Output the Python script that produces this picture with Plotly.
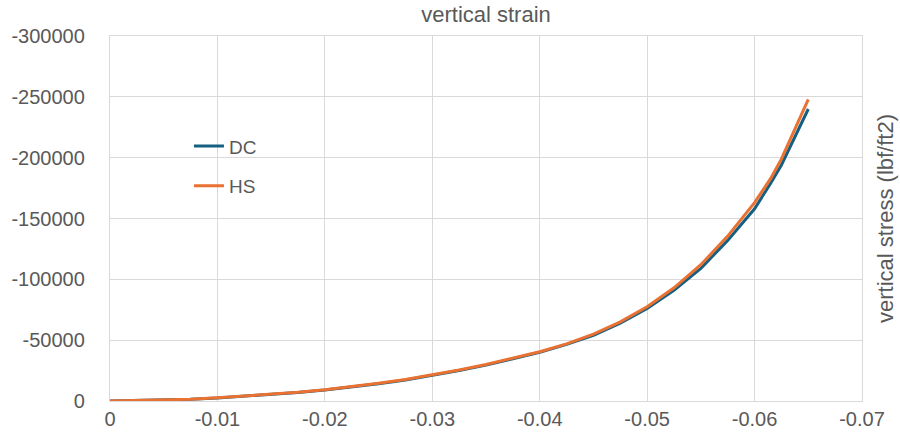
import plotly.graph_objects as go

strain = [0.0, -0.0025, -0.005, -0.0075, -0.01, -0.0125, -0.015, -0.0175, -0.02,
          -0.0225, -0.025, -0.0275, -0.03, -0.0325, -0.035, -0.0375, -0.04,
          -0.0425, -0.045, -0.0475, -0.05, -0.0525, -0.055, -0.0575, -0.06,
          -0.0615, -0.0625, -0.065]
dc_stress = [0, -300, -700, -1500, -2500, -3800, -5300, -7000, -9000,
             -11500, -14200, -17300, -21000, -25000, -29500, -34500, -40000,
             -46500, -54000, -64000, -76000, -91000, -109000, -132000, -158000,
             -179000, -194000, -240000]
hs_stress = [0, -300, -700, -1500, -2600, -3900, -5400, -7100, -9200,
             -11700, -14500, -17600, -21400, -25500, -30000, -35000, -40500,
             -47000, -55000, -65000, -77500, -93000, -112000, -135500, -163000,
             -183000, -199000, -248000]

x_ticks = [0, -0.01, -0.02, -0.03, -0.04, -0.05, -0.06, -0.07]
x_labels = ["0", "-0.01", "-0.02", "-0.03", "-0.04", "-0.05", "-0.06", "-0.07"]
y_ticks = [0, -50000, -100000, -150000, -200000, -250000, -300000]
y_labels = ["0", "-50000", "-100000", "-150000", "-200000", "-250000", "-300000"]

FONT = "Liberation Sans"
TXT = "#595959"
GRID = "#d9d9d9"

fig = go.Figure()
fig.add_trace(go.Scatter(x=strain, y=dc_stress, name="DC", mode="lines",
                         line=dict(color="#156082", width=3), legendgroup="a"))
fig.add_trace(go.Scatter(x=strain, y=hs_stress, name="HS", mode="lines",
                         line=dict(color="#E97132", width=3), legendgroup="b"))
# invisible trace on secondary axis to carry right-side title
fig.add_trace(go.Scatter(x=[None], y=[None], yaxis="y2", showlegend=False,
                         hoverinfo="skip"))

fig.update_layout(
    width=900, height=443,
    margin=dict(l=110, r=38, t=36, b=42),
    paper_bgcolor="white", plot_bgcolor="white",
    font=dict(family=FONT, color=TXT, size=20),
    title=dict(text="vertical strain", x=0.54, xanchor="center",
               y=0.968, yanchor="middle",
               font=dict(family=FONT, size=22, color=TXT)),
    xaxis=dict(range=[0, -0.07], tickvals=x_ticks, ticktext=x_labels,
               showgrid=True, gridcolor=GRID, gridwidth=1.3,
               showline=True, linecolor=GRID, linewidth=1.3, mirror=True,
               zeroline=False, ticks="", automargin=False,
               tickfont=dict(size=20, color=TXT)),
    yaxis=dict(range=[0, -300000], tickvals=y_ticks, ticktext=y_labels,
               showgrid=True, gridcolor=GRID, gridwidth=1.3,
               showline=True, linecolor=GRID, linewidth=1.3, mirror=True,
               zeroline=False, ticks="", ticklabelstandoff=20, automargin=False,
               tickfont=dict(size=20, color=TXT)),
    yaxis2=dict(overlaying="y", side="right", range=[0, -300000],
                showticklabels=False, showgrid=False, zeroline=False,
                automargin=False,
                title=dict(text="vertical stress (lbf/ft2)", standoff=15,
                           font=dict(family=FONT, size=22, color=TXT))),
    legend=dict(x=0.105, y=0.75, xanchor="left", yanchor="top",
                bgcolor="rgba(0,0,0,0)", tracegroupgap=12,
                font=dict(size=19, color=TXT)),
    showlegend=True,
)

fig.write_html("out.html")
